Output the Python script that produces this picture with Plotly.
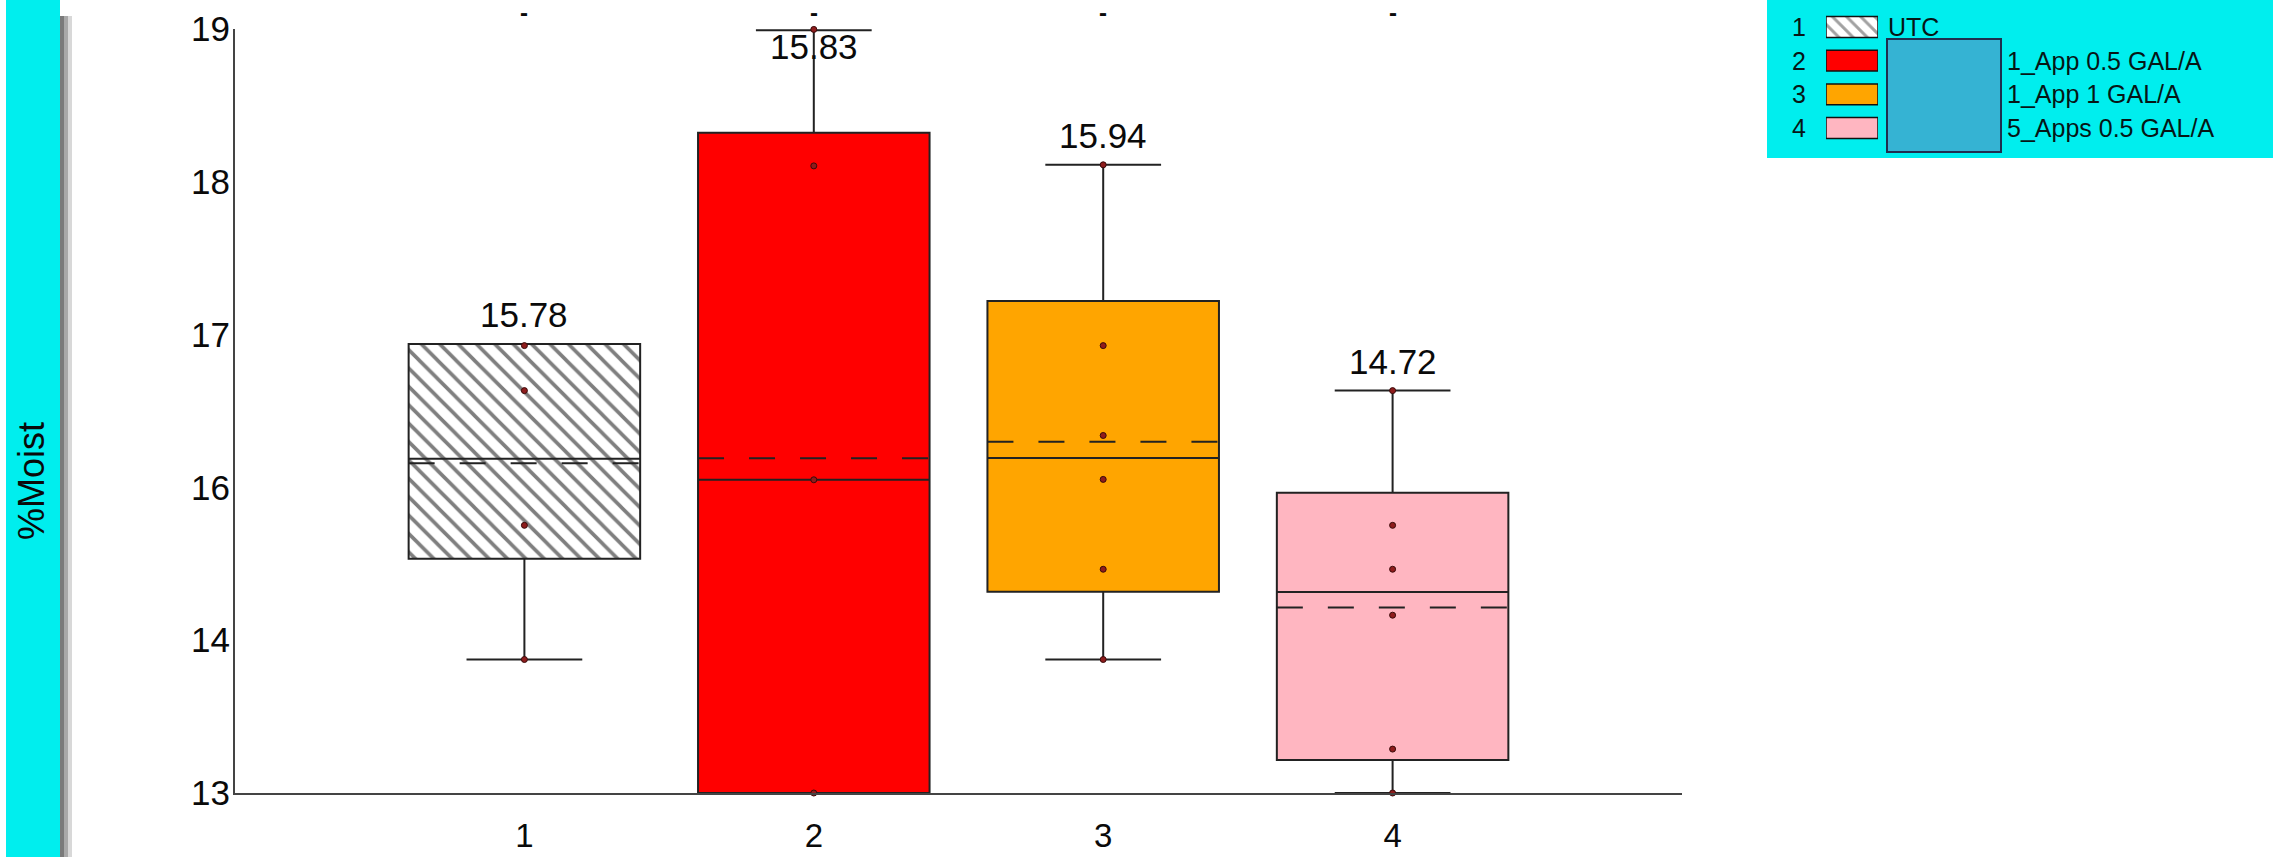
import plotly.graph_objects as go

# ---------------- data ----------------
groups = [1, 2, 3, 4]
group_labels = ["1", "2", "3", "4"]
legend_names = ["UTC", "1_App 0.5 GAL/A", "1_App 1 GAL/A", "5_Apps 0.5 GAL/A"]
box_colors = ["white", "#FF0000", "#FFA500", "#FFB6C1"]
hatched = [True, False, False, False]

q1 = [15.077, 13.353, 14.834, 13.595]
median = [15.812, 15.657, 15.818, 14.832]
q3 = [16.656, 18.209, 16.972, 15.562]
lower_fence = [14.335, 13.353, 14.335, 13.353]
upper_fence = [16.656, 18.963, 17.974, 16.313]
means = [15.779, 15.816, 15.936, 14.717]
mean_labels = ["15.78", "15.83", "15.94", "14.72"]
sig_letters = ["-", "-", "-", "-"]

points_g1 = [16.644, 16.313, 15.322, 14.335]
points_g2 = [18.970, 17.966, 15.657, 13.353]
points_g3 = [17.974, 16.644, 15.983, 15.660, 14.999, 14.335]
points_g4 = [16.313, 15.322, 14.999, 14.661, 13.676, 13.353]
points = [points_g1, points_g2, points_g3, points_g4]

# y axis: evenly spaced ticks whose labels are rounded integers
y_ticks = [13.353, 14.477, 15.601, 16.725, 17.849, 18.973]
y_ticktext = ["13", "14", "16", "17", "18", "19"]
y_title = "%Moist"

# ---------------- layout geometry ----------------
W, H = 2287, 857
PL, PR, PT, PB = 235, 1682, 29, 793
FONT = "Liberation Sans, Arial, sans-serif"
BOX_W = 0.8
CYAN = "#00EEEE"
TXT = "#0A0A0A"


def px(x):
    return x / W


def py(y):
    return 1 - y / H


fig = go.Figure()

# hatch fill underneath hatched boxes
for g, a, b, h in zip(groups, q1, q3, hatched):
    if h:
        fig.add_trace(go.Bar(
            x=[g], y=[b - a], base=[a], width=BOX_W,
            marker=dict(color="white", line=dict(width=0),
                        pattern=dict(shape="\\", fgcolor="#000000", bgcolor="white",
                                     size=13, solidity=0.28)),
            showlegend=False, hoverinfo="skip", xaxis="x", yaxis="y"))

# boxes
for g, a, m, b, lo, hi, c, h in zip(groups, q1, median, q3, lower_fence, upper_fence, box_colors, hatched):
    fig.add_trace(go.Box(
        x=[g], q1=[a], median=[m], q3=[b], lowerfence=[lo], upperfence=[hi],
        width=BOX_W, whiskerwidth=0.5,
        fillcolor="rgba(0,0,0,0)" if h else c,
        line=dict(color="#222222", width=2),
        boxpoints=False, showlegend=False, hoverinfo="skip"))

# mean lines (dashed)
mx, my = [], []
for g, m in zip(groups, means):
    mx += [g - BOX_W / 2, g + BOX_W / 2, None]
    my += [m, m, None]
fig.add_trace(go.Scatter(x=mx, y=my, mode="lines",
                         line=dict(color="#222222", width=2, dash="26px,25px"),
                         showlegend=False, hoverinfo="skip"))

# individual points
for g, pts in zip(groups, points):
    fig.add_trace(go.Scatter(x=[g] * len(pts), y=pts, mode="markers",
                             marker=dict(size=6, color="#8E1C1C", line=dict(color="#3A0A0A", width=1)),
                             cliponaxis=False, showlegend=False, hoverinfo="skip"))

# legend swatches on a hidden helper axis
fig.add_trace(go.Bar(
    y=[1, 2, 3, 4], x=[1, 1, 1, 1], base=[0, 0, 0, 0], orientation="h", width=0.62,
    marker=dict(color=box_colors, line=dict(color="#111111", width=1.5),
                pattern=dict(shape=["\\" if h else "" for h in hatched],
                             fgcolor="#111111", bgcolor="white", size=10, solidity=0.3)),
    xaxis="x2", yaxis="y2", showlegend=False, hoverinfo="skip"))

annotations = []
# mean labels above whiskers
ppu = (PB - PT) / (y_ticks[-1] - y_ticks[0])
for g, hi, t in zip(groups, upper_fence, mean_labels):
    room = (y_ticks[-1] - hi) * ppu
    if room > 50:
        annotations.append(dict(x=g, y=hi, xref="x", yref="y", text=t, showarrow=False,
                                xanchor="center", yanchor="bottom", yshift=8,
                                font=dict(family=FONT, size=35, color=TXT)))
    else:
        annotations.append(dict(x=g, y=py(PT) + 4 / H, xref="x", yref="paper", text=t, showarrow=False,
                                xanchor="center", yanchor="top", font=dict(family=FONT, size=35, color=TXT)))
# significance marks on top
for g, s in zip(groups, sig_letters):
    annotations.append(dict(x=g, y=py(13), xref="x", yref="paper", text="<b>" + s + "</b>",
                            showarrow=False, xanchor="center", yanchor="middle",
                            font=dict(family=FONT, size=24, color=TXT)))
# y title
annotations.append(dict(x=px(31), y=py(481), xref="paper", yref="paper", text=y_title, textangle=-90,
                        showarrow=False, xanchor="center", yanchor="middle",
                        font=dict(family=FONT, size=36, color=TXT)))
# legend texts
rows = [27, 61, 94, 128]
for i, (r, name) in enumerate(zip(rows, legend_names)):
    annotations.append(dict(x=px(1799), y=py(r), xref="paper", yref="paper", text=str(i + 1),
                            showarrow=False, xanchor="center", yanchor="middle",
                            font=dict(family=FONT, size=25, color="#061616")))
    annotations.append(dict(x=px(1886 if i == 0 else 2005), y=py(r), xref="paper", yref="paper", text=name,
                            xanchor="left", yanchor="middle", showarrow=False,
                            font=dict(family=FONT, size=25, color="#061616")))

shapes = [
    dict(type="rect", xref="paper", yref="paper", x0=px(6), x1=px(60), y0=0, y1=1,
         fillcolor=CYAN, line=dict(width=0), layer="below"),
    dict(type="rect", xref="paper", yref="paper", x0=px(60), x1=px(64), y0=0, y1=py(16),
         fillcolor="#7A7A7A", line=dict(width=0), layer="below"),
    dict(type="rect", xref="paper", yref="paper", x0=px(64), x1=px(68), y0=0, y1=py(16),
         fillcolor="#A8A8A8", line=dict(width=0), layer="below"),
    dict(type="rect", xref="paper", yref="paper", x0=px(68), x1=px(72), y0=0, y1=py(16),
         fillcolor="#D8D8D8", line=dict(width=0), layer="below"),
    dict(type="rect", xref="paper", yref="paper", x0=px(1767), x1=px(2273), y0=py(158), y1=1,
         fillcolor=CYAN, line=dict(width=0), layer="below"),
    dict(type="rect", xref="paper", yref="paper", x0=px(1887), x1=px(2001), y0=py(152), y1=py(39),
         fillcolor="#35B3D3", line=dict(color="#1E2F4F", width=2), layer="above"),
]

fig.update_layout(
    width=W, height=H, margin=dict(l=0, r=0, t=0, b=0, pad=0),
    paper_bgcolor="white", plot_bgcolor="white",
    showlegend=False, boxmode="overlay", barmode="overlay",
    font=dict(family=FONT, color=TXT),
    xaxis=dict(domain=[px(PL), px(PR)], range=[0, 5], showline=True, linecolor="#444", linewidth=2,
               ticks="", tickvals=groups, ticktext=group_labels, tickfont=dict(size=33),
               showgrid=False, zeroline=False, ticklabelstandoff=12, automargin=False),
    yaxis=dict(domain=[py(PB), py(PT)], range=[y_ticks[0], y_ticks[-1]], showline=True, linecolor="#444",
               linewidth=2, ticks="", tickvals=y_ticks, ticktext=y_ticktext, tickfont=dict(size=35),
               showgrid=False, zeroline=False, ticklabelstandoff=-4, automargin=False),
    xaxis2=dict(domain=[px(1826), px(1878)], range=[0, 1], visible=False, anchor="y2"),
    yaxis2=dict(domain=[py(144.8), py(10.2)], range=[4.5, 0.5], visible=False, anchor="x2"),
    annotations=annotations, shapes=shapes,
)

# pin the figure to the page's top-left corner so the page is exactly the figure
pin = (
    "var gd=document.getElementById('{plot_id}');"
    "document.documentElement.style.margin='0';document.documentElement.style.padding='0';"
    "document.documentElement.style.overflow='hidden';"
    "document.body.style.margin='0';document.body.style.padding='0';document.body.style.overflow='hidden';"
    "gd.style.position='fixed';gd.style.left='0px';gd.style.top='0px';"
)

fig.write_html("out.html", post_script=pin, config={"displayModeBar": False})
